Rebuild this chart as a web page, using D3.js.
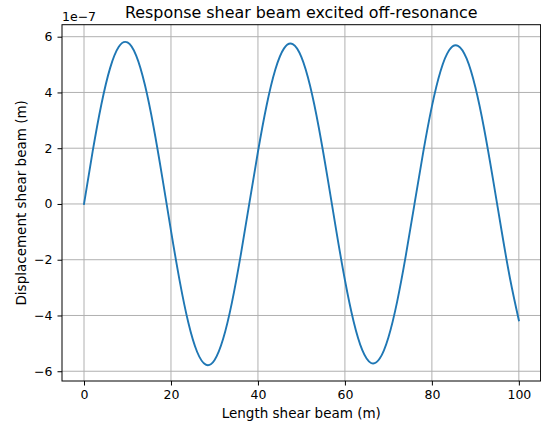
<!DOCTYPE html>
<html>
<head>
<meta charset="utf-8">
<script src="https://cdn.jsdelivr.net/npm/d3@7"></script>
<style>
  html, body { margin: 0; padding: 0; background: #fff; }
  svg { display: block; }
  text { font-family: "DejaVu Sans", sans-serif; fill: #000; }
</style>
</head>
<body>
<svg id="chart" width="541" height="428"></svg>
<script>
// Position along beam (m)
const lengthX = [0,2,4,6,8,10,12,14,16,18,20,22,24,26,28,30,32,34,36,38,40,42,44,46,48,50,52,54,56,58,60,62,64,66,68,70,72,74,76,78,80,82,84,86,88,90,92,94,96,98,100];
// Displacement (units of 1e-7 m)
const displacement = [0,1.892,3.577,4.873,5.639,5.794,5.322,4.273,2.762,0.955,-0.954,-2.758,-4.261,-5.301,-5.765,-5.605,-4.838,-3.548,-1.874,0,1.872,3.540,4.822,5.580,5.733,5.266,4.228,2.734,0.945,-0.944,-2.729,-4.216,-5.246,-5.705,-5.546,-4.787,-3.510,-1.855,0,1.852,3.502,4.771,5.522,5.673,5.210,4.183,2.705,0.935,-0.934,-2.700,-4.171];
const xTicks = [0,20,40,60,80,100];
const yTicks = [-6,-4,-2,0,2,4,6];
const titleText = "Response shear beam excited off-resonance";
const xLabel = "Length shear beam (m)";
const yLabel = "Displacement shear beam (m)";
const offsetText = "1e\u22127";

const L = 62, R = 540.6, T = 24.7, B = 381;
const svg = d3.select("#chart");
const x = d3.scaleLinear().domain([-5.06, 105.0]).range([L, R]);
const y = d3.scaleLinear().domain([-6.35, 6.43]).range([B, T]);

// grid
const g = svg.append("g");
g.selectAll(".vg").data(xTicks).join("line")
  .attr("x1", d => x(d)).attr("x2", d => x(d)).attr("y1", T).attr("y2", B)
  .attr("stroke", "#b0b0b0").attr("stroke-width", 1);
g.selectAll(".hg").data(yTicks).join("line")
  .attr("y1", d => y(d)).attr("y2", d => y(d)).attr("x1", L).attr("x2", R)
  .attr("stroke", "#b0b0b0").attr("stroke-width", 1);

// line
const pts = lengthX.map((v, i) => [v, displacement[i]]);
svg.append("path").datum(pts)
  .attr("fill", "none").attr("stroke", "#1f77b4").attr("stroke-width", 1.9)
  .attr("stroke-linejoin", "round").attr("stroke-linecap", "square")
  .attr("d", d3.line().x(d => x(d[0])).y(d => y(d[1])).curve(d3.curveNatural));

// axes
const fmt = d => d < 0 ? "\u2212" + Math.abs(d) : String(d);
const xAxis = svg.append("g").attr("transform", `translate(0,${B})`)
  .call(d3.axisBottom(x).tickValues(xTicks).tickFormat(fmt).tickSize(4.5).tickPadding(5));
const yAxis = svg.append("g").attr("transform", `translate(${L},0)`)
  .call(d3.axisLeft(y).tickValues(yTicks).tickFormat(fmt).tickSize(4.5).tickPadding(5));
[xAxis, yAxis].forEach(a => {
  a.select(".domain").remove();
  a.selectAll("line").attr("stroke", "#000").attr("stroke-width", 1);
  a.selectAll("text").attr("font-size", "12.5px").attr("font-family", "DejaVu Sans").attr("fill", "#000");
});

// spines
svg.append("rect").attr("x", L).attr("y", T).attr("width", R - L).attr("height", B - T)
  .attr("fill", "none").attr("stroke", "#000").attr("stroke-width", 1);

// texts
svg.append("text").attr("x", (L + R) / 2).attr("y", 17.5).attr("text-anchor", "middle")
  .attr("font-size", "15.9px").text(titleText);
svg.append("text").attr("x", (L + R) / 2).attr("y", 418).attr("text-anchor", "middle")
  .attr("font-size", "13.5px").text(xLabel);
svg.append("text").attr("transform", `translate(26,${(T + B) / 2}) rotate(-90)`)
  .attr("text-anchor", "middle").attr("font-size", "13.5px").text(yLabel);
svg.append("text").attr("x", L).attr("y", 21).attr("font-size", "12.5px").text(offsetText);
</script>
</body>
</html>
